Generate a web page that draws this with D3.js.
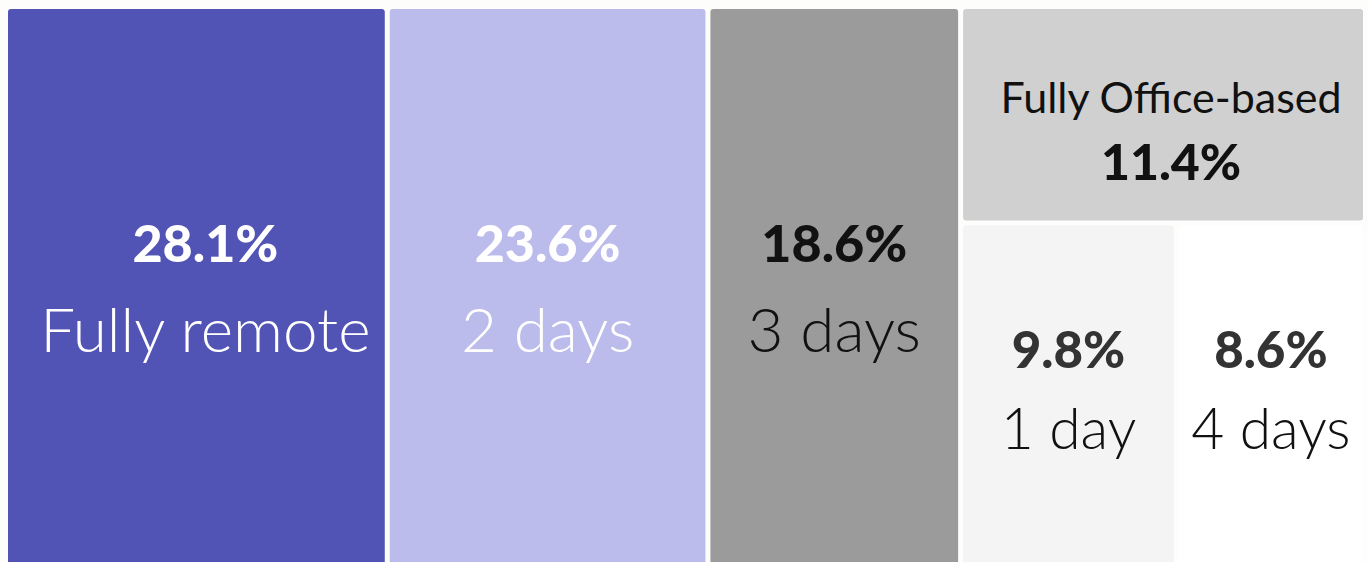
<!DOCTYPE html>
<html>
<head>
<meta charset="utf-8">
<script src="https://cdn.jsdelivr.net/npm/d3@7"></script>
<style>
  html, body { margin: 0; padding: 0; background: #fdfdfc; overflow: hidden; }
  svg { display: block; }
  text { font-family: Lato, "Noto Sans", sans-serif; }
</style>
</head>
<body>
<div id="chart"></div>
<script>
// Share of staff by days in the office per week
var names = ["Fully remote", "2 days", "3 days", "Fully Office-based", "1 day", "4 days"];
var shares = [28.1, 23.6, 18.6, 11.4, 9.8, 8.6];
var fills = ["#5153b5", "#bbbbec", "#9b9b9b", "#d0d0d0", "#f4f4f4", "#ffffff"];
var pctColors = ["#ffffff", "#ffffff", "#111111", "#111111", "#333333", "#333333"];
var labelColors = ["#ffffff", "#ffffff", "#111111", "#111111", "#111111", "#111111"];

var width = 1368, height = 562;

// Set up the basic D3 drawing area
var svg = d3.select("#chart")
    .append("svg")
    .attr("width", width)
    .attr("height", height);

var leaf = function (i) {
    return { name: names[i], value: shares[i], fill: fills[i], pct: pctColors[i], lab: labelColors[i] };
};

// first three are full-height columns, the rest are stacked in the last column
var tree = {
    children: [
        leaf(0), leaf(1), leaf(2),
        { children: [ leaf(3), { children: [ leaf(4), leaf(5) ] } ] }
    ]
};

var root = d3.hierarchy(tree)
    .sum(function(d) { return d.value || 0; });

d3.treemap()
    .tile(d3.treemapSliceDice)
    .size([1355, 561])
    .paddingInner(5)(root);

var g = svg.append("g").attr("transform", "translate(8,9)");

var cell = g.selectAll(".cell")
    .data(root.leaves())
    .enter()
    .append("g")
    .attr("class", "cell");

cell.append("rect")
    .attr("x", function(d) { return d.x0; })
    .attr("y", function(d) { return d.y0; })
    .attr("width", function(d) { return d.x1 - d.x0; })
    .attr("height", function(d) { return d.y1 - d.y0; })
    .attr("rx", 3)
    .attr("fill", function(d) { return d.data.fill; });

// text offsets, the office cell puts its label above the number
var nudge = { "Fully remote": 9, "Fully Office-based": 8 };
var bigLabel = function (d) { return d.depth == 1; };

cell.each(function(d) {
    var sel = d3.select(this);
    var cx = (d.x0 + d.x1) / 2 + (nudge[d.data.name] || 0);
    var cy = (d.y0 + d.y1) / 2;
    var pctText = d.data.value.toFixed(1) + "%";

    if (d.data.name == "Fully Office-based") {
        sel.append("text")
            .attr("x", cx).attr("y", cy - 2)
            .attr("text-anchor", "middle")
            .attr("font-size", 43)
            .attr("font-weight", 400)
            .attr("fill", d.data.lab)
            .text(d.data.name);
        sel.append("text")
            .attr("x", cx).attr("y", cy + 65)
            .attr("text-anchor", "middle")
            .attr("font-size", 50)
            .attr("font-weight", 900)
            .attr("fill", d.data.pct)
            .text(pctText);
        return;
    }

    sel.append("text")
        .attr("x", cx).attr("y", cy - (bigLabel(d) ? 28 : 30))
        .attr("text-anchor", "middle")
        .attr("font-size", bigLabel(d) ? 52 : 51)
        .attr("font-weight", 900)
        .attr("fill", d.data.pct)
        .text(pctText);

    sel.append("text")
        .attr("x", cx).attr("y", cy + (bigLabel(d) ? 62 : 51))
        .attr("text-anchor", "middle")
        .attr("font-size", bigLabel(d) ? 62 : 57)
        .attr("font-weight", 300)
        .attr("fill", d.data.lab)
        .text(d.data.name);
});
</script>
</body>
</html>
